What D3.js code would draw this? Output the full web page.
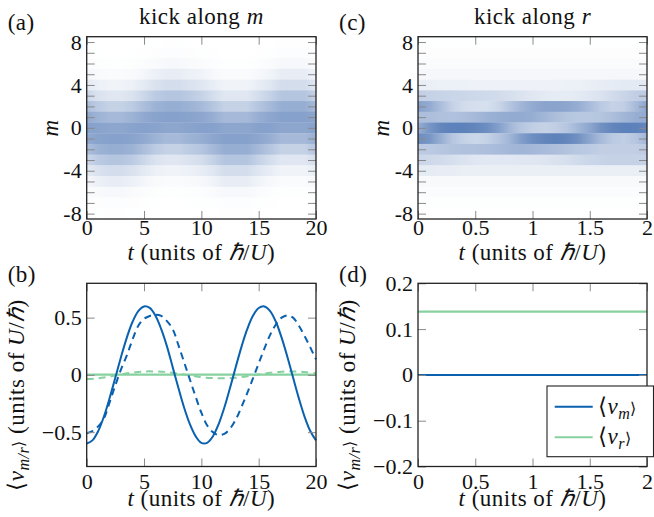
<!DOCTYPE html>
<html>
<head>
<meta charset="utf-8">
<script src="https://cdn.jsdelivr.net/npm/d3@7"></script>
<style>
  body { margin: 0; background: #fff; }
</style>
</head>
<body>
<svg id="fig" width="654" height="517"></svg>
<script>
// ---------- data ----------
const mRows = [8, 7, 6, 5, 4, 3, 2, 1, 0, -1, -2, -3, -4, -5, -6, -7, -8];

// panel (a): kick along m, t = 0..20
const timeKickM = [0, 1, 2, 3, 4, 5, 6, 7, 8, 9, 10, 11, 12, 13, 14, 15, 16, 17, 18, 19, 20];
const densityKickM = [
  [.001,.001,0,0,.001,.001,.003,.004,.004,.003,.002,.001,0,0,0,.001,.002,.004,.004,.004,.002],
  [.006,.003,.002,.002,.003,.006,.011,.015,.015,.011,.008,.004,.002,.002,.002,.004,.008,.015,.015,.015,.008],
  [.019,.011,.008,.008,.011,.019,.033,.043,.043,.033,.026,.015,.008,.008,.008,.015,.026,.043,.043,.043,.026],
  [.055,.033,.026,.026,.033,.055,.09,.11,.11,.09,.07,.043,.026,.026,.026,.043,.07,.11,.11,.11,.07],
  [.13,.09,.07,.07,.09,.13,.18,.21,.21,.18,.15,.11,.07,.07,.07,.11,.15,.21,.21,.21,.15],
  [.25,.18,.15,.15,.18,.25,.32,.36,.36,.32,.28,.21,.15,.15,.15,.21,.28,.36,.36,.36,.28],
  [.40,.32,.28,.28,.32,.40,.47,.50,.50,.47,.43,.36,.28,.28,.28,.36,.43,.50,.50,.50,.43],
  [.53,.47,.43,.43,.47,.53,.57,.58,.58,.57,.55,.50,.43,.43,.43,.50,.55,.58,.58,.58,.55],
  [.58,.57,.55,.55,.57,.58,.57,.55,.55,.57,.58,.58,.55,.55,.55,.58,.58,.55,.55,.55,.58],
  [.53,.57,.58,.58,.57,.53,.47,.43,.43,.47,.50,.55,.58,.58,.58,.55,.50,.43,.43,.43,.50],
  [.40,.47,.50,.50,.47,.40,.32,.28,.28,.32,.36,.43,.50,.50,.50,.43,.36,.28,.28,.28,.36],
  [.25,.32,.36,.36,.32,.25,.18,.15,.15,.18,.21,.28,.36,.36,.36,.28,.21,.15,.15,.15,.21],
  [.13,.18,.21,.21,.18,.13,.09,.07,.07,.09,.11,.15,.21,.21,.21,.15,.11,.07,.07,.07,.11],
  [.055,.09,.11,.11,.09,.055,.033,.026,.026,.033,.043,.07,.11,.11,.11,.07,.043,.026,.026,.026,.043],
  [.019,.033,.043,.043,.033,.019,.011,.008,.008,.011,.015,.026,.043,.043,.043,.026,.015,.008,.008,.008,.015],
  [.006,.011,.015,.015,.011,.006,.003,.002,.002,.003,.004,.008,.015,.015,.015,.008,.004,.002,.002,.002,.004],
  [.001,.003,.004,.004,.003,.001,.001,0,0,.001,.001,.002,.004,.004,.004,.002,.001,0,0,0,.001]
];

// panel (c): kick along r, t = 0..2
const timeKickR = [0, .1, .2, .3, .4, .5, .6, .7, .8, .9, 1, 1.1, 1.2, 1.3, 1.4, 1.5, 1.6, 1.7, 1.8, 1.9, 2];
const densityKickR = [
  [.003,.003,.003,.003,.003,.003,.003,.003,.003,.003,.003,.003,.003,.003,.003,.003,.003,.003,.003,.003,.003],
  [.01,.01,.01,.01,.01,.01,.01,.01,.01,.01,.01,.01,.01,.01,.01,.01,.01,.01,.01,.01,.01],
  [.025,.025,.025,.025,.025,.025,.025,.025,.025,.025,.025,.025,.025,.025,.025,.025,.025,.025,.025,.025,.025],
  [.05,.05,.05,.05,.05,.05,.05,.05,.05,.05,.05,.05,.05,.05,.05,.05,.05,.05,.05,.05,.05],
  [.1,.1,.09,.09,.09,.08,.08,.08,.08,.08,.08,.08,.08,.09,.09,.1,.11,.12,.13,.13,.13],
  [.3,.28,.27,.26,.25,.24,.23,.22,.2,.17,.15,.13,.12,.12,.13,.15,.18,.22,.26,.3,.32],
  [.58,.52,.4,.28,.22,.2,.2,.25,.35,.45,.52,.56,.57,.55,.5,.42,.33,.28,.3,.42,.55],
  [.4,.4,.38,.38,.4,.43,.47,.5,.52,.52,.5,.45,.4,.36,.34,.34,.36,.4,.45,.5,.52],
  [.5,.65,.75,.78,.78,.75,.7,.6,.45,.35,.3,.28,.3,.35,.45,.55,.68,.75,.78,.78,.75],
  [.7,.65,.5,.35,.28,.25,.28,.35,.45,.6,.7,.75,.78,.75,.68,.55,.42,.33,.3,.35,.45],
  [.32,.33,.35,.37,.38,.38,.4,.42,.44,.45,.44,.42,.4,.37,.34,.32,.3,.3,.3,.3,.32],
  [.25,.24,.22,.2,.17,.15,.14,.14,.14,.15,.15,.16,.18,.2,.23,.25,.27,.28,.28,.28,.27],
  [.12,.12,.11,.11,.1,.1,.1,.1,.1,.1,.1,.1,.1,.1,.1,.1,.1,.1,.1,.1,.1],
  [.04,.04,.04,.04,.04,.04,.04,.04,.04,.04,.04,.04,.04,.04,.04,.04,.04,.04,.04,.04,.04],
  [.02,.02,.02,.02,.02,.02,.02,.02,.02,.02,.02,.02,.02,.02,.02,.02,.02,.02,.02,.02,.02],
  [.008,.008,.008,.008,.008,.008,.008,.008,.008,.008,.008,.008,.008,.008,.008,.008,.008,.008,.008,.008,.008],
  [.002,.002,.002,.002,.002,.002,.002,.002,.002,.002,.002,.002,.002,.002,.002,.002,.002,.002,.002,.002,.002]
];

// panel (b): mean velocities, t = 0..20
const timeLine = [0,0.5,1,1.5,2,2.5,3,3.5,4,4.5,5,5.5,6,6.5,7,7.5,8,8.5,9,9.5,10,
  10.5,11,11.5,12,12.5,13,13.5,14,14.5,15,15.5,16,16.5,17,17.5,18,18.5,19,19.5,20];
const vmSolid = [-.600,-.572,-.491,-.364,-.202,-.023,.159,.326,.464,.557,.598,.585,.516,.400,.249,.068,
  -.115,-.287,-.430,-.535,-.593,-.593,-.538,-.432,-.287,-.114,.069,.245,.399,.516,.584,.598,.557,.464,
  .325,.159,-.023,-.203,-.364,-.490,-.572];
const vmDashed = [-.51,-.49,-.45,-.38,-.24,-.09,.05,.17,.31,.43,.49,.515,.525,.515,.47,.40,.26,.11,-.04,
  -.19,-.33,-.44,-.50,-.525,-.515,-.47,-.39,-.28,-.16,-.03,.10,.23,.35,.44,.50,.52,.50,.43,.34,.24,.135];
const timeCoarse = [0,1,2,3,4,5,6,7,8,9,10,11,12,13,14,15,16,17,18,19,20];
const vrSolid = [.003,.003,.003,.003,.003,.003,.003,.003,.003,.003,.003,.003,.003,.003,.003,.003,.003,.003,.003,.003,.003];
const vrDashed = [-.035,-.03,-.015,.005,.02,.03,.03,.025,.01,-.005,-.02,-.028,-.03,-.025,-.012,.003,.018,.028,.03,.025,.015];

// panel (d): kick along r, t = 0..2
const timeD = [0, 2];
const vmD = [0, 0];
const vrD = [0.138, 0.138];

// ticks
const mTicks = [-8,-7,-6,-5,-4,-3,-2,-1,0,1,2,3,4,5,6,7,8];
const tTicksLong = [0, 5, 10, 15, 20];
const tTicksShort = [0, 0.5, 1, 1.5, 2];
const vTicksB = [-0.5, 0, 0.5];
const vTicksD = [-0.2, -0.1, 0, 0.1, 0.2];

// ---------- drawing ----------
const FONT = "Liberation Serif";
const svg = d3.select("#fig");
const defs = svg.append("defs");
const blue = "#0a61b0", green = "#86d19f";
const heatColor = d3.scaleLinear().domain([0, 1]).range(["#ffffff", "#2f5da6"]);
const fmtNum = d => d < 0 ? "\u2212" + Math.abs(d) : String(d);
const fmtHyph = d => (d % 4 === 0 ? (d < 0 ? "-" + Math.abs(d) : String(d)) : "");

// text with italic / subscript pieces
function rich(sel, parts) {
  sel.attr("font-family", FONT).attr("fill", "#111").attr("letter-spacing", 0.5);
  parts.forEach(p => {
    const s = sel.append("tspan").text(p.t);
    if (p.i) s.attr("font-style", "italic");
    if (p.sub) s.attr("font-size", "0.7em").attr("dy", p.sub);
  });
  return sel;
}

function axes(g, x, y, o) {
  const [xa, xb] = x.range(), [ya, yb] = y.range();
  const tick = 8;
  const bottom = g.append("g").attr("transform", `translate(0,${ya})`)
    .call(d3.axisBottom(x).tickValues(o.xt).tickSize(-tick).tickFormat(o.xf));
  bottom.selectAll("text").attr("dy", null).attr("y", o.xlab);
  g.append("g").attr("transform", `translate(0,${yb})`)
    .call(d3.axisTop(x).tickValues(o.xt).tickSize(-tick).tickFormat(""));
  const left = g.append("g").attr("transform", `translate(${xa},0)`)
    .call(d3.axisLeft(y).tickValues(o.yt).tickSize(-tick).tickFormat(o.yf));
  left.selectAll("text").attr("x", -o.ylab);
  g.append("g").attr("transform", `translate(${xb},0)`)
    .call(d3.axisRight(y).tickValues(o.yt).tickSize(-tick).tickFormat(""));
  g.selectAll(".domain").remove();
  g.selectAll("g").attr("font-family", FONT);
  g.selectAll(".tick line").attr("stroke", "#8a8a8a").attr("stroke-width", 1);
  g.selectAll(".tick text").attr("font-family", FONT).attr("font-size", 22).attr("fill", "#111");
  g.append("rect").attr("x", xa).attr("y", yb).attr("width", xb - xa).attr("height", ya - yb)
    .attr("fill", "none").attr("stroke", "#222").attr("stroke-width", 1.3);
}

const xLabel = [{ t: "t", i: true }, { t: " (units of " }, { t: "\u210F", i: true }, { t: "/" }, { t: "U", i: true }, { t: ")" }];
const yLabelV = [{ t: "\u27E8" }, { t: "v", i: true }, { t: "m/r", i: true, sub: 5 }, { t: "\u27E9", sub: -5 },
  { t: " (units of " }, { t: "U", i: true }, { t: "/" }, { t: "\u210F", i: true }, { t: ")" }];

function heatPanel(id, box, times, rows, xt, title, tag) {
  const g = svg.append("g");
  const x = d3.scaleLinear().domain([times[0], times[times.length - 1]]).range([box.x0, box.x1]);
  const y = d3.scaleLinear().domain([-8.5, 8.5]).range([box.y1, box.y0]);
  rows.forEach((row, i) => {
    const m = mRows[i];
    const gid = `${id}-row${i}`;
    const grad = defs.append("linearGradient").attr("id", gid)
      .attr("gradientUnits", "userSpaceOnUse")
      .attr("x1", box.x0).attr("x2", box.x1).attr("y1", 0).attr("y2", 0);
    grad.selectAll("stop").data(row).join("stop")
      .attr("offset", (d, j) => (x(times[j]) - box.x0) / (box.x1 - box.x0))
      .attr("stop-color", d => heatColor(d));
    g.append("rect")
      .attr("x", box.x0).attr("width", box.x1 - box.x0)
      .attr("y", y(m + 0.5)).attr("height", y(m - 0.5) - y(m + 0.5) + 0.3)
      .attr("fill", `url(#${gid})`);
  });
  axes(g, x, y, { xt, xf: d => String(d), xlab: 16, yt: mTicks, yf: fmtHyph, ylab: 5 });
  g.append("text").attr("x", (box.x0 + box.x1) / 2).attr("y", 24).attr("text-anchor", "middle")
    .attr("font-size", 23).call(rich, title);
  g.append("text").attr("x", box.x0 - 79).attr("y", 30).attr("font-size", 23).call(rich, [{ t: tag }]);
  g.append("text").attr("transform", `translate(${box.x0 - 29},${(box.y0 + box.y1) / 2}) rotate(-90)`)
    .attr("text-anchor", "middle").attr("font-size", 23).call(rich, [{ t: "m", i: true }]);
  g.append("text").attr("x", (box.x0 + box.x1) / 2).attr("y", 260).attr("text-anchor", "middle")
    .attr("font-size", 23).call(rich, xLabel);
}

const boxA = { x0: 86.7, x1: 316, y0: 36.7, y1: 219 };
const boxC = { x0: 418, x1: 647, y0: 36.7, y1: 219 };
const boxB = { x0: 86.7, x1: 316, y0: 283.3, y1: 466.5 };
const boxD = { x0: 418, x1: 647, y0: 283.3, y1: 466.5 };

heatPanel("ha", boxA, timeKickM, densityKickM, tTicksLong,
  [{ t: "kick along " }, { t: "m", i: true }], "(a)");
heatPanel("hc", boxC, timeKickR, densityKickR, tTicksShort,
  [{ t: "kick along " }, { t: "r", i: true }], "(c)");

function linePanel(box, xDom, yDom, xt, yt, series, tag, xlab) {
  const g = svg.append("g");
  const x = d3.scaleLinear().domain(xDom).range([box.x0, box.x1]);
  const y = d3.scaleLinear().domain(yDom).range([box.y1, box.y0]);
  const line = d3.line().x(d => x(d[0])).y(d => y(d[1])).curve(d3.curveCatmullRom);
  series.forEach(s => {
    g.append("path").datum(s.t.map((t, i) => [t, s.v[i]]))
      .attr("d", line).attr("fill", "none").attr("stroke", s.c)
      .attr("stroke-width", s.w).attr("stroke-dasharray", s.dash || null);
  });
  axes(g, x, y, { xt, xf: fmtNum, xlab, yt, yf: fmtNum, ylab: 5 });
  g.append("text").attr("x", box.x0 - 79).attr("y", 282).attr("font-size", 23).call(rich, [{ t: tag }]);
  g.append("text").attr("transform", `translate(${box.x0 - 63},395) rotate(-90)`)
    .attr("text-anchor", "middle").attr("font-size", 23).call(rich, yLabelV);
  g.append("text").attr("x", (box.x0 + box.x1) / 2).attr("y", 506).attr("text-anchor", "middle")
    .attr("font-size", 23).call(rich, xLabel);
  return { g, x, y };
}

linePanel(boxB, [0, 20], [-0.8, 0.8], tTicksLong, vTicksB, [
  { t: timeCoarse, v: vrSolid, c: green, w: 2.2 },
  { t: timeCoarse, v: vrDashed, c: green, w: 2, dash: "7,5" },
  { t: timeLine, v: vmDashed, c: blue, w: 2, dash: "7,5" },
  { t: timeLine, v: vmSolid, c: blue, w: 2 }
], "(b)", 22);

const pd = linePanel(boxD, [0, 2], [-0.2, 0.2], tTicksShort, vTicksD, [
  { t: timeD, v: vrD, c: green, w: 2.2 },
  { t: timeD, v: vmD, c: blue, w: 2 }
], "(d)", 22);

// legend
const legend = [
  { c: blue, lab: [{ t: "\u27E8" }, { t: "v", i: true }, { t: "m", i: true, sub: 5 }, { t: "\u27E9", sub: -5 }] },
  { c: green, lab: [{ t: "\u27E8" }, { t: "v", i: true }, { t: "r", i: true, sub: 5 }, { t: "\u27E9", sub: -5 }] }
];
const lg = pd.g.append("g");
lg.append("rect").attr("x", 547).attr("y", 386).attr("width", 106.5).attr("height", 70.7)
  .attr("fill", "#fff").attr("stroke", "#222").attr("stroke-width", 1.1);
legend.forEach((d, i) => {
  const yy = 406.7 + i * 30.6;
  lg.append("line").attr("x1", 554.7).attr("x2", 592.7).attr("y1", yy).attr("y2", yy)
    .attr("stroke", d.c).attr("stroke-width", 2);
  lg.append("text").attr("x", 598).attr("y", yy + 7).attr("font-size", 23).call(rich, d.lab);
});
</script>
</body>
</html>
